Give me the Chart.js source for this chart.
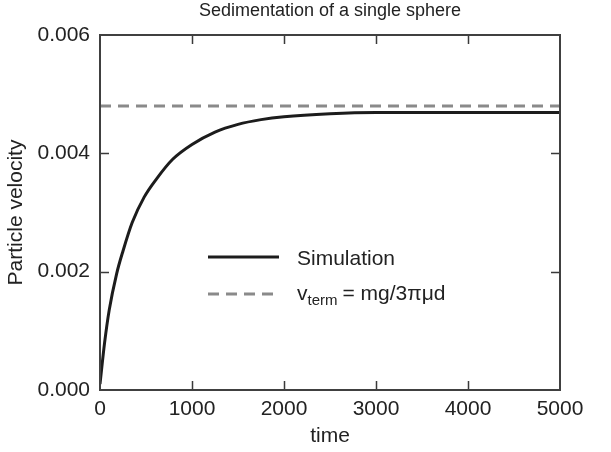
<!DOCTYPE html>
<html>
<head>
<meta charset="utf-8">
<script src="https://cdn.jsdelivr.net/npm/chart.js@4"></script>
<style>
  html, body { margin: 0; padding: 0; background: #fff; }
</style>
</head>
<body>
<canvas id="sedimentChart" width="611" height="452"></canvas>
<script>
// values
var times = [0, 50, 100, 180, 250, 350, 480, 615, 790, 1000, 1250, 1500, 1750, 2000, 2500, 3000, 4000, 5000];
var velocity = [0.0001, 0.0008, 0.00135, 0.00196, 0.00235, 0.00283, 0.00326, 0.00357, 0.0039, 0.00415, 0.00436, 0.00449, 0.00457, 0.00462, 0.00467, 0.00469, 0.00469, 0.00469];
var terminalTimes = [0, 5000];
var terminalVelocity = [0.0048, 0.0048];
var xTicks = [0, 1000, 2000, 3000, 4000, 5000];
var yTicks = [0, 0.002, 0.004, 0.006];

var FONT = 'Liberation Sans, Arial, Helvetica, sans-serif';

function toPoints(xs, ys) {
    return xs.map(function (x, i) { return { x: x, y: ys[i] }; });
}

// frame, inward tick marks, title and in-plot legend
var decorations = {
    id: 'decorations',
    afterDraw: function (chart) {
        var ctx = chart.ctx;
        var a = chart.chartArea;
        var xs = chart.scales.x, ys = chart.scales.y;
        ctx.save();
        ctx.strokeStyle = '#3a3a3a';
        ctx.lineWidth = 1.5;
        ctx.beginPath();
        xTicks.slice(1, -1).forEach(function (t) {
            var px = Math.round(xs.getPixelForValue(t)) + 0.5;
            ctx.moveTo(px, a.bottom); ctx.lineTo(px, a.bottom - 9);
            ctx.moveTo(px, a.top); ctx.lineTo(px, a.top + 9);
        });
        yTicks.slice(1, -1).forEach(function (v) {
            var py = Math.round(ys.getPixelForValue(v)) + 0.5;
            ctx.moveTo(a.left, py); ctx.lineTo(a.left + 9, py);
            ctx.moveTo(a.right, py); ctx.lineTo(a.right - 9, py);
        });
        ctx.stroke();
        ctx.lineWidth = 2;
        ctx.strokeStyle = '#404040';
        ctx.strokeRect(a.left, a.top, a.right - a.left, a.bottom - a.top);

        // title
        ctx.fillStyle = '#222';
        ctx.font = '18px ' + FONT;
        ctx.textAlign = 'center';
        ctx.textBaseline = 'middle';
        ctx.fillText('Sedimentation of a single sphere', (a.left + a.right) / 2, 11);

        // legend
        var lx0 = 208, lx1 = 279, tx = 297;
        var y1 = 257, y2 = 294;
        ctx.lineWidth = 3;
        ctx.strokeStyle = '#1c1c1c';
        ctx.setLineDash([]);
        ctx.beginPath(); ctx.moveTo(lx0, y1); ctx.lineTo(lx1, y1); ctx.stroke();
        ctx.strokeStyle = '#8a8a8a';
        ctx.setLineDash([11, 7]);
        ctx.beginPath(); ctx.moveTo(lx0, y2); ctx.lineTo(lx1, y2); ctx.stroke();
        ctx.setLineDash([]);

        ctx.textAlign = 'left';
        ctx.textBaseline = 'alphabetic';
        ctx.fillStyle = '#222';
        ctx.font = '21px ' + FONT;
        ctx.fillText('Simulation', tx, y1 + 8);
        var x = tx;
        ctx.fillText('v', x, y2 + 6);
        x += ctx.measureText('v').width;
        ctx.font = '15px ' + FONT;
        ctx.fillText('term', x, y2 + 11);
        x += ctx.measureText('term').width + 5;
        ctx.font = '21px ' + FONT;
        ctx.fillText('= mg/3\u03c0\u03bcd', x, y2 + 6);
        ctx.restore();
    }
};

var ctx = document.getElementById('sedimentChart').getContext('2d');
var sedimentChart = new Chart(ctx, {
    type: 'line',
    data: {
        datasets: [{
            label: 'v_term = mg/3\u03c0\u03bcd',
            data: toPoints(terminalTimes, terminalVelocity),
            borderColor: '#8a8a8a',
            borderWidth: 3,
            borderDash: [11, 7],
            pointRadius: 0,
            fill: false
        }, {
            label: 'Simulation',
            data: toPoints(times, velocity),
            borderColor: '#1c1c1c',
            borderWidth: 3,
            pointRadius: 0,
            cubicInterpolationMode: 'monotone',
            fill: false
        }]
    },
    options: {
        responsive: false,
        animation: false,
        layout: { padding: { top: 35, right: 51, left: 0, bottom: 0 } },
        plugins: {
            legend: { display: false },
            title: { display: false },
            tooltip: { enabled: false }
        },
        scales: {
            x: {
                type: 'linear',
                min: 0,
                max: 5000,
                afterBuildTicks: function (scale) {
                    scale.ticks = xTicks.map(function (v) { return { value: v }; });
                },
                afterFit: function (scale) { scale.height = 62; },
                grid: { display: false, drawTicks: false },
                border: { display: false },
                ticks: {
                    color: '#222',
                    padding: 7,
                    maxRotation: 0,
                    font: { family: FONT, size: 21 },
                    callback: function (v) { return String(v); }
                },
                title: {
                    display: true,
                    text: 'time',
                    color: '#222',
                    padding: { top: 4, bottom: 3 },
                    font: { family: FONT, size: 21 }
                }
            },
            y: {
                type: 'linear',
                min: 0,
                max: 0.006,
                afterBuildTicks: function (scale) {
                    scale.ticks = yTicks.map(function (v) { return { value: v }; });
                },
                afterFit: function (scale) { scale.width = 100; },
                grid: { display: false, drawTicks: false },
                border: { display: false },
                ticks: {
                    color: '#222',
                    padding: 10,
                    font: { family: FONT, size: 21 },
                    callback: function (v) { return v.toFixed(3); }
                },
                title: {
                    display: true,
                    text: 'Particle velocity',
                    color: '#222',
                    padding: { top: 4, bottom: 4 },
                    font: { family: FONT, size: 21 }
                }
            }
        }
    },
    plugins: [decorations]
});
</script>
</body>
</html>
